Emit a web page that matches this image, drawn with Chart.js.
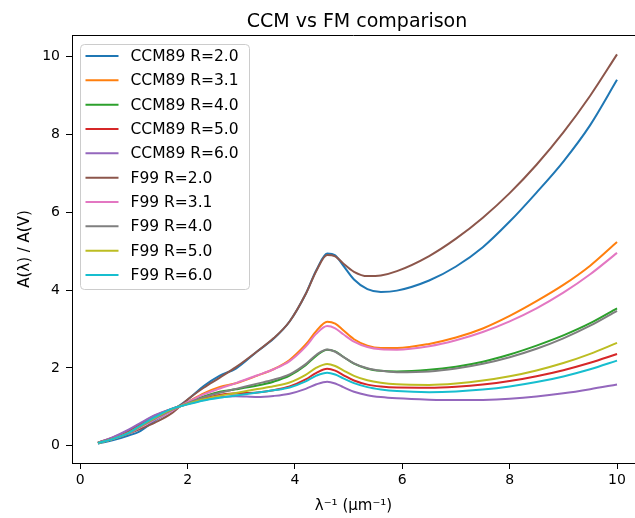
<!DOCTYPE html>
<html>
<head>
<meta charset="utf-8">
<script src="https://cdn.jsdelivr.net/npm/chart.js@4.4.1/dist/chart.umd.min.js"></script>
<style>
  html, body { margin: 0; padding: 0; background: #fff; overflow: hidden; }
  #wrap { width: 635px; height: 518px; }
</style>
</head>
<body>
<div id="wrap"><canvas id="chart" width="635" height="518"></canvas></div>
<script>
// inverse wavelength, 1/micron
const waveNumbers = [0.33, 0.6, 0.9, 1.1, 1.4, 1.7, 2.0, 2.3, 2.6, 2.9, 3.3, 3.6, 3.9, 4.2, 4.4, 4.6, 4.75, 4.9, 5.1, 5.35, 5.6, 5.9, 6.5, 7.0, 7.5, 8.0, 8.5, 9.0, 9.5, 10.0];

// A(lambda)/A(V)
const ccmR20 = [0.052, 0.136, 0.262, 0.362, 0.658, 0.902, 1.181, 1.534, 1.803, 1.984, 2.429, 2.747, 3.194, 3.900, 4.517, 4.943, 4.895, 4.632, 4.274, 4.026, 3.954, 3.987, 4.248, 4.608, 5.104, 5.763, 6.509, 7.307, 8.243, 9.407];
const ccmR31 = [0.068, 0.178, 0.341, 0.471, 0.728, 0.927, 1.122, 1.344, 1.509, 1.605, 1.802, 1.966, 2.205, 2.601, 2.953, 3.188, 3.141, 2.967, 2.737, 2.574, 2.514, 2.513, 2.617, 2.780, 3.014, 3.337, 3.716, 4.134, 4.629, 5.238];
const ccmR40 = [0.074, 0.194, 0.373, 0.516, 0.757, 0.937, 1.098, 1.266, 1.389, 1.450, 1.546, 1.646, 1.801, 2.070, 2.314, 2.470, 2.424, 2.286, 2.108, 1.979, 1.925, 1.910, 1.950, 2.032, 2.160, 2.345, 2.574, 2.836, 3.150, 3.533];
const ccmR50 = [0.079, 0.206, 0.396, 0.546, 0.776, 0.944, 1.082, 1.212, 1.306, 1.344, 1.369, 1.426, 1.522, 1.704, 1.873, 1.976, 1.929, 1.817, 1.675, 1.570, 1.519, 1.494, 1.490, 1.516, 1.571, 1.661, 1.787, 1.942, 2.132, 2.358];
const ccmR60 = [0.082, 0.214, 0.410, 0.567, 0.790, 0.948, 1.071, 1.176, 1.251, 1.273, 1.251, 1.279, 1.337, 1.460, 1.579, 1.646, 1.600, 1.504, 1.386, 1.297, 1.249, 1.217, 1.184, 1.173, 1.178, 1.206, 1.262, 1.346, 1.453, 1.575];
const f99R20 = [0.073, 0.17, 0.31, 0.42, 0.60, 0.83, 1.19, 1.49, 1.75, 2.02, 2.43, 2.76, 3.193, 3.899, 4.500, 4.905, 4.870, 4.684, 4.472, 4.361, 4.378, 4.489, 4.877, 5.324, 5.863, 6.495, 7.224, 8.056, 8.999, 10.062];
const f99R31 = [0.073, 0.17, 0.32, 0.46, 0.675, 0.891, 1.118, 1.32, 1.47, 1.61, 1.81, 1.965, 2.174, 2.548, 2.882, 3.076, 3.019, 2.866, 2.675, 2.536, 2.480, 2.470, 2.559, 2.712, 2.925, 3.197, 3.532, 3.934, 4.408, 4.958];
const f99R40 = [0.073, 0.17, 0.325, 0.48, 0.705, 0.917, 1.092, 1.246, 1.36, 1.461, 1.596, 1.697, 1.833, 2.098, 2.339, 2.473, 2.416, 2.284, 2.119, 1.990, 1.925, 1.891, 1.909, 1.985, 2.107, 2.275, 2.492, 2.761, 3.085, 3.469];
const f99R50 = [0.073, 0.17, 0.33, 0.49, 0.725, 0.934, 1.074, 1.197, 1.284, 1.357, 1.455, 1.528, 1.624, 1.822, 2.006, 2.103, 2.050, 1.938, 1.796, 1.681, 1.617, 1.577, 1.562, 1.599, 1.674, 1.785, 1.935, 2.126, 2.362, 2.645];
const f99R60 = [0.073, 0.17, 0.33, 0.50, 0.74, 0.946, 1.062, 1.164, 1.234, 1.291, 1.366, 1.424, 1.497, 1.654, 1.802, 1.878, 1.830, 1.732, 1.609, 1.506, 1.447, 1.405, 1.377, 1.395, 1.444, 1.523, 1.635, 1.781, 1.965, 2.188];

const seriesLabels = ["CCM89 R=2.0", "CCM89 R=3.1", "CCM89 R=4.0", "CCM89 R=5.0", "CCM89 R=6.0",
                      "F99 R=2.0", "F99 R=3.1", "F99 R=4.0", "F99 R=5.0", "F99 R=6.0"];
const seriesValues = [ccmR20, ccmR31, ccmR40, ccmR50, ccmR60, f99R20, f99R31, f99R40, f99R50, f99R60];

// matplotlib tab10
const colors = ["#1f77b4", "#ff7f0e", "#2ca02c", "#d62728", "#9467bd",
                "#8c564b", "#e377c2", "#7f7f7f", "#bcbd22", "#17becf"];

const FONT = "'DejaVu Sans', sans-serif";

const datasets = seriesLabels.map((label, i) => ({
    label: label,
    data: waveNumbers.map((x, j) => ({ x: x, y: seriesValues[i][j] })),
    borderColor: colors[i],
    backgroundColor: colors[i],
    borderWidth: 2,
    pointRadius: 0,
    cubicInterpolationMode: "monotone",
    order: seriesLabels.length - i   // later series on top, like pyplot
}));

// top spine, title and the in-axes legend
// (the figure is cut at the right, so the axes box has no right spine in view)
const frameAndLegend = {
    id: "frameAndLegend",
    afterDatasetsDraw(chart) {
        const { ctx, chartArea: a } = chart;
        ctx.save();
        ctx.strokeStyle = "#000";
        ctx.lineWidth = 1;
        ctx.beginPath();
        ctx.moveTo(a.left, a.top + 0.5);
        ctx.lineTo(chart.width, a.top + 0.5);
        ctx.stroke();

        // title centred on the full (uncut) axes box
        ctx.fillStyle = "#000";
        ctx.font = "19px " + FONT;
        ctx.textAlign = "center";
        ctx.textBaseline = "alphabetic";
        ctx.fillText("CCM vs FM comparison", 357, 27);

        // legend box
        const bx = a.left + 8.5, by = a.top + 9.5, bw = 169, bh = 245;
        ctx.beginPath();
        ctx.roundRect(bx, by, bw, bh, 4);
        ctx.fillStyle = "rgba(255,255,255,0.8)";
        ctx.fill();
        ctx.strokeStyle = "#cccccc";
        ctx.stroke();

        ctx.font = "15.5px " + FONT;
        ctx.textAlign = "left";
        ctx.textBaseline = "middle";
        chart.data.datasets.forEach((ds, i) => {
            const y = by + 11.5 + i * 24.33;
            ctx.strokeStyle = ds.borderColor;
            ctx.lineWidth = 2;
            ctx.beginPath();
            ctx.moveTo(bx + 5, y);
            ctx.lineTo(bx + 38, y);
            ctx.stroke();
            ctx.fillStyle = "#000";
            ctx.fillText(ds.label, bx + 50, y + 1);
        });
        ctx.restore();
    }
};

new Chart(document.getElementById("chart"), {
    type: "line",
    data: { datasets: datasets },
    options: {
        responsive: false,
        animation: false,
        devicePixelRatio: 1,
        layout: { padding: { top: 35, right: 0, left: 0, bottom: 0 } },
        plugins: {
            legend: { display: false },
            tooltip: { enabled: false },
            title: { display: false }
        },
        scales: {
            x: {
                type: "linear",
                min: -0.1535,
                max: 10.335,
                afterFit: (s) => { s.height = 55; },
                grid: { drawOnChartArea: false, drawTicks: true, tickLength: 6,
                        color: "rgba(0,0,0,0)", tickColor: "#000" },
                border: { display: true, color: "#000", width: 1 },
                ticks: {
                    stepSize: 2,
                    includeBounds: false,
                    padding: 3,
                    color: "#000",
                    maxRotation: 0,
                    font: { family: FONT, size: 14 }
                },
                title: {
                    display: true,
                    text: "λ⁻¹ (μm⁻¹)",
                    color: "#000",
                    font: { family: FONT, size: 15 },
                    padding: { top: 0, bottom: 3 }
                }
            },
            y: {
                type: "linear",
                min: -0.445,
                max: 10.56,
                afterFit: (s) => { s.width = 72; },
                grid: { drawOnChartArea: false, drawTicks: true, tickLength: 6,
                        color: "rgba(0,0,0,0)", tickColor: "#000" },
                border: { display: true, color: "#000", width: 1 },
                ticks: {
                    stepSize: 2,
                    includeBounds: false,
                    padding: 6,
                    color: "#000",
                    font: { family: FONT, size: 14 }
                },
                title: {
                    display: true,
                    text: "A(λ) / A(V)",
                    color: "#000",
                    font: { family: FONT, size: 15 },
                    padding: { top: 16, bottom: 0 }
                }
            }
        }
    },
    plugins: [frameAndLegend]
});
</script>
</body>
</html>
